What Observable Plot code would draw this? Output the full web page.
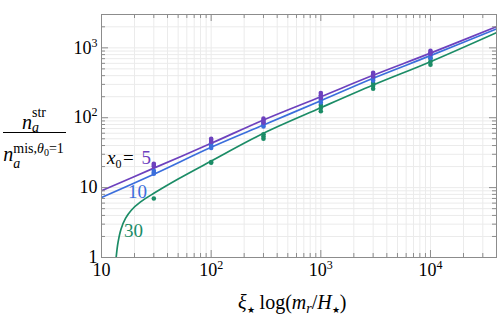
<!DOCTYPE html>
<html><head><meta charset="utf-8">
<script src="https://cdn.jsdelivr.net/npm/d3@7"></script>
<script src="https://cdn.jsdelivr.net/npm/@observablehq/plot@0.6"></script>
<style>body{margin:0;background:#fff}#chart svg{display:block}</style>
</head><body><div id="chart"></div>
<script>
// ---- data ----
const lineX = [10, 30, 100, 300, 1000, 3000, 10000, 40000];
const curveX5 = [9.0, 19, 43, 93, 200, 405, 840, 2010];
const curveX10 = [7.2, 15.5, 37.7, 78.6, 175, 367, 773, 1864];
const curve30X = [13.6, 14.14, 15.06, 16.55, 18.78, 22.7, 30, 50, 100, 300, 1000, 3000, 10000, 40000];
const curve30Y = [1, 1.63, 2.54, 3.62, 4.78, 6.24, 8.3, 13.3, 24, 60, 139, 294, 634, 1650];

const pointX = [30, 100, 300, 1000, 3000, 10000];
const pointsX5 = [[20, 21, 22], [45, 48, 50], [85, 91, 97], [192, 210, 226], [390, 415, 440], [820, 865, 910]];
const pointsX10 = [[15.8, 16.5, 17.4], [37, 40, 43], [75, 80, 85], [165, 180, 195], [340, 362, 387], [715, 765, 815]];
const pointsX30 = [[7.0], [22.7, 23.3], [50, 54, 58], [124, 138, 152], [260, 287, 315], [575, 640, 705]];

const xTicks = [10, 100, 1000, 10000];
const xTickLabels = ["10", "10^2", "10^3", "10^4"];
const yTicks = [1, 10, 100, 1000];
const yTickLabels = ["1", "10", "10^2", "10^3"];

const seriesNames = ["5", "10", "30"];
const colors = {"5": "#6d41be", "10": "#3b6edc", "30": "#1b8c66"};

// ---- tables ----
const lines = [
  ...curve30X.map((x, i) => ({s: "30", x, y: curve30Y[i]})),
  ...lineX.map((x, i) => ({s: "10", x, y: curveX10[i]})),
  ...lineX.map((x, i) => ({s: "5", x, y: curveX5[i]}))
];
const pts = [];
[["30", pointsX30], ["10", pointsX10], ["5", pointsX5]].forEach(([s, arr]) =>
  arr.forEach((ys, i) => ys.forEach(y => pts.push({s, x: pointX[i], y}))));

const W = 498, H = 317, mT = 14, mB = 60, mL = 101, mR = 2;
const frameH = H - mT - mB;
const xDomain = [10, 40000], yDomain = [1, 3000];
const xGrid = d3.scaleLog().domain(xDomain).ticks().filter(v => v > xDomain[0] && v < xDomain[1]);
const yGrid = d3.scaleLog().domain(yDomain).ticks().filter(v => v > yDomain[0] && v < yDomain[1]);
const isMajor = v => Math.abs(Math.log10(v) - Math.round(Math.log10(v))) < 1e-9;
const xMinor = xGrid.filter(v => !isMajor(v)), xMajor = xGrid.filter(isMajor);
const yMinor = yGrid.filter(v => !isMajor(v)), yMajor = yGrid.filter(isMajor);
const TC = "#8c8c8c", GC = "#ebebeb";
const SERIF = "'Liberation Serif', 'DejaVu Serif', serif";

const plot = Plot.plot({
  width: W, height: H,
  marginTop: mT, marginBottom: mB, marginLeft: mL, marginRight: mR,
  x: {type: "log", domain: xDomain, axis: null},
  y: {type: "log", domain: yDomain, axis: null},
  color: {domain: seriesNames, range: seriesNames.map(s => colors[s])},
  style: {fontFamily: SERIF, background: "#fff", overflow: "visible"},
  marks: [
    Plot.ruleX(xGrid, {x: d => d, stroke: GC, strokeWidth: 1}),
    Plot.ruleY(yGrid, {y: d => d, stroke: GC, strokeWidth: 1}),
    Plot.line(lines, {x: "x", y: "y", z: "s", stroke: "s", strokeWidth: 1.7, curve: "catmull-rom", clip: true}),
    Plot.dot(pts, {x: "x", y: "y", fill: "s", r: 2.3}),
    Plot.frame({stroke: TC, strokeWidth: 1}),
    // ticks (inward) on all four sides
    Plot.ruleX(xMajor, {x: d => d, stroke: TC, insetTop: frameH - 7}),
    Plot.ruleX(xMinor, {x: d => d, stroke: TC, insetTop: frameH - 4}),
    Plot.ruleX(xMajor, {x: d => d, stroke: TC, insetBottom: frameH - 7}),
    Plot.ruleX(xMinor, {x: d => d, stroke: TC, insetBottom: frameH - 4}),
    Plot.ruleY(yMajor, {y: d => d, stroke: TC, insetRight: (W - mL - mR) - 7}),
    Plot.ruleY(yMinor, {y: d => d, stroke: TC, insetRight: (W - mL - mR) - 4}),
    Plot.ruleY(yMajor, {y: d => d, stroke: TC, insetLeft: (W - mL - mR) - 7}),
    Plot.ruleY(yMinor, {y: d => d, stroke: TC, insetLeft: (W - mL - mR) - 4}),
    // tick labels
    Plot.text(xTicks, {x: d => d, text: (d, i) => xTickLabels[i], frameAnchor: "bottom", dy: 18, fontSize: 18, fill: "#000"}),
    Plot.text(yTicks, {y: d => d, text: (d, i) => yTickLabels[i], frameAnchor: "left", textAnchor: "end", dx: -4, fontSize: 18, fill: "#000"})
  ]
});
document.getElementById("chart").append(plot);

const svg = d3.select(plot);
// superscripts for tick labels
svg.selectAll("text").each(function () {
  const s = this.textContent;
  if (s.includes("^")) {
    const [b, e] = s.split("^");
    const t = d3.select(this);
    t.text(b);
    t.append("tspan").attr("dy", -7).attr("font-size", 12).text(e);
  }
});

function rich(x, y, parts, base = 20) {
  const t = svg.append("text").attr("x", x).attr("y", y).attr("text-anchor", "start")
    .attr("font-family", SERIF).attr("font-size", base).attr("fill", "#000");
  let cur = 0;
  for (const p of parts) {
    const off = p.shift || 0;
    const ts = t.append("tspan").attr("dy", off - cur).text(p.t);
    cur = off;
    if (p.size) ts.attr("font-size", p.size);
    if (p.italic) ts.attr("font-style", "italic");
    if (p.fill) ts.attr("fill", p.fill);
    if (p.dx) ts.attr("dx", p.dx);
    if (p.x != null) ts.attr("x", p.x);
  }
  return t;
}

// x axis label: ξ★ log(m_r/H★)
rich(238, 309, [
  {t: "ξ", italic: true},
  {t: "★", size: 9, shift: 4},
  {t: " log(", shift: 0},
  {t: "m", italic: true},
  {t: "r", italic: true, size: 14, shift: 4},
  {t: "/", shift: 0},
  {t: "H", italic: true},
  {t: "★", size: 9, shift: 4},
  {t: ")", shift: 0}
]);

// y axis label: fraction
rich(22, 128.5, [
  {t: "n", italic: true},
  {t: "a", italic: true, size: 14, shift: 3},
  {t: "str", size: 14, shift: -12, dx: -7}
]);
svg.append("line").attr("x1", 3).attr("x2", 66).attr("y1", 132.5).attr("y2", 132.5)
  .attr("stroke", "#000").attr("stroke-width", 1);
rich(3.3, 160.5, [
  {t: "n", italic: true},
  {t: "a", italic: true, size: 14, shift: 7.5},
  {t: "mis,", size: 14, shift: -7.5, dx: -7},
  {t: "θ", italic: true, size: 14, shift: -7.5},
  {t: "0", size: 10, shift: -4.5},
  {t: "=1", size: 14, shift: -7.5}
]);

// series labels
rich(107, 163.5, [
  {t: "x", italic: true},
  {t: "0", size: 12, shift: 4},
  {t: "=", shift: 0, x: 123},
  {t: "5", fill: colors["5"], x: 141.5}
], 19);
rich(128, 198, [{t: "10", fill: colors["10"]}], 19);
rich(124, 237, [{t: "30", fill: colors["30"]}], 19);
</script>
</body></html>
